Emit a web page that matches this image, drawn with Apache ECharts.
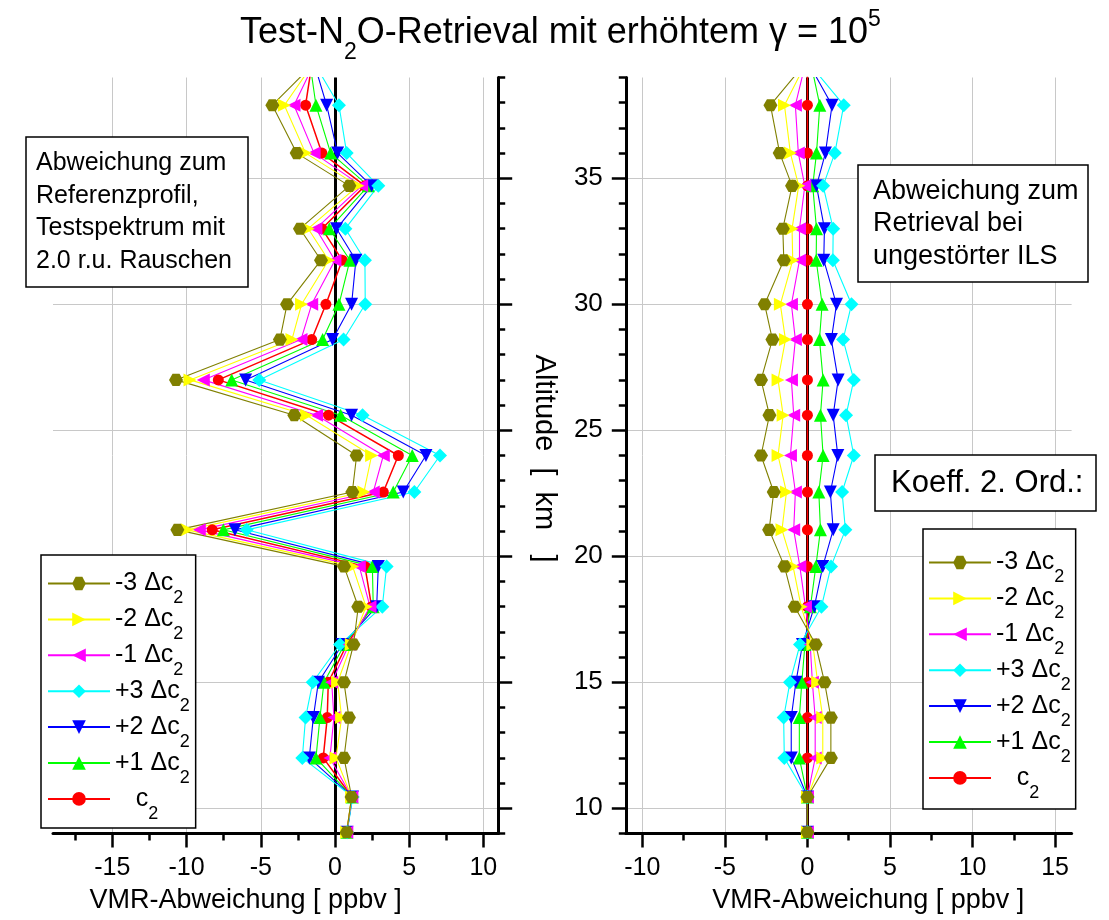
<!DOCTYPE html>
<html>
<head>
<meta charset="utf-8">
<script src="https://cdn.jsdelivr.net/npm/echarts@6/dist/echarts.min.js"></script>
<style>
  html, body { margin: 0; padding: 0; background: #fff; }
  #chart { width: 1109px; height: 920px; }
</style>
</head>
<body>
<div id="chart"></div>
<script>
// Retrieval altitudes [km]; the first level lies above the plotted range
const altitudes = [40.0, 37.9, 36.0, 34.7, 33.0, 31.75, 30.0, 28.6, 27.0, 25.6, 24.0,
                   22.55, 21.05, 19.6, 18.0, 16.5, 15.0, 13.6, 12.0, 10.45, 9.05];

// Left panel: deviation from the reference profile [ppbv]
const refM3 = [-0.67, -4.22, -2.58, 0.97, -2.36, -0.94, -3.23, -3.71, -10.71, -2.74, 1.46, 1.17, -10.62, 0.61, 1.57, 1.25, 0.61, 0.94, 0.61, 1.12, 0.79];
const refM2 = [-0.94, -3.41, -1.98, 1.55, -1.80, -0.43, -2.25, -2.90, -9.77, -1.91, 2.47, 1.95, -9.95, 1.19, 2.09, 1.10, 0.18, 0.45, 0.07, 1.12, 0.79];
const refM1 = [-1.04, -2.76, -1.41, 1.80, -1.28, 0.00, -1.57, -2.29, -8.87, -1.24, 3.26, 2.58, -9.14, 1.64, 2.36, 0.95, -0.22, -0.07, -0.34, 1.14, 0.80];
const refP3 = [-1.82, 0.27, 0.79, 2.92, 0.70, 2.02, 2.04, 0.58, -5.10, 1.86, 7.08, 5.35, -5.95, 3.48, 3.19, 0.34, -1.50, -1.98, -2.20, 1.20, 0.82];
const refP2 = [-1.62, -0.56, 0.18, 2.47, 0.11, 1.41, 1.12, -0.16, -6.02, 1.12, 6.13, 4.60, -6.74, 2.92, 2.81, 0.50, -1.12, -1.46, -1.73, 1.18, 0.81];
const refP1 = [-1.79, -1.28, -0.29, 2.25, -0.38, 1.01, 0.27, -0.83, -6.96, 0.38, 5.21, 3.93, -7.52, 2.52, 2.58, 0.65, -0.74, -1.01, -1.28, 1.16, 0.80];
const refC2 = [-1.44, -1.98, -0.88, 2.02, -0.88, 0.49, -0.61, -1.57, -7.86, -0.43, 4.27, 3.26, -8.27, 2.02, 2.47, 0.80, -0.45, -0.52, -0.79, 1.15, 0.80];

// Right panel: deviation from the retrieval with undisturbed ILS [ppbv]
const ilsM3 = [0.42, -2.24, -1.68, -0.93, -1.49, -1.43, -2.59, -2.12, -2.81, -2.30, -2.81, -2.04, -2.32, -1.39, -0.77, 0.50, 1.04, 1.42, 1.42, 0.00, 0.00];
const ilsM2 = [0.24, -1.39, -1.03, -0.53, -0.93, -0.89, -1.64, -1.33, -1.78, -1.47, -1.78, -1.27, -1.54, -0.87, -0.38, 0.33, 0.62, 0.93, 0.93, 0.00, 0.00];
const ilsM1 = [0.04, -0.73, -0.55, -0.16, -0.48, -0.48, -0.97, -0.73, -0.97, -0.83, -1.03, -0.73, -0.83, -0.46, -0.12, 0.17, 0.30, 0.47, 0.47, 0.00, 0.00];
const ilsP3 = [-0.45, 2.20, 1.66, 0.95, 1.56, 1.54, 2.67, 2.16, 2.81, 2.34, 2.81, 2.10, 2.30, 1.43, 0.85, -0.45, -1.06, -1.44, -1.40, 0.00, 0.00];
const ilsP2 = [-0.30, 1.49, 1.09, 0.55, 1.03, 0.99, 1.76, 1.45, 1.86, 1.56, 1.84, 1.39, 1.56, 0.93, 0.42, -0.30, -0.70, -0.98, -0.98, 0.00, 0.00];
const ilsP1 = [0.07, 0.75, 0.55, 0.32, 0.55, 0.53, 0.89, 0.73, 0.95, 0.79, 0.95, 0.69, 0.79, 0.51, 0.18, -0.15, -0.34, -0.49, -0.49, 0.00, 0.00];
const ilsC2 = [0.00, 0.00, 0.00, 0.00, 0.00, 0.00, 0.00, 0.00, 0.00, 0.00, 0.00, 0.00, 0.00, 0.00, 0.00, 0.00, 0.00, 0.00, 0.00, 0.00, 0.00];

// Legend entries (main text, subscript follows)
const legendOrder = ['-3 Δc', '-2 Δc', '-1 Δc', '+3 Δc', '+2 Δc', '+1 Δc', '   c'];

// Axis ticks
const altMajor = [10, 15, 20, 25, 30, 35];
const altMinor = [9, 11, 12, 13, 14, 16, 17, 18, 19, 21, 22, 23, 24, 26, 27, 28, 29, 31, 32, 33, 34, 36, 37, 38, 39];
const refTicks = [-15, -10, -5, 0, 5, 10];
const refMinor = [-17.5, -12.5, -7.5, -2.5, 2.5, 7.5];
const ilsTicks = [-10, -5, 0, 5, 10, 15];
const ilsMinor = [-7.5, -2.5, 2.5, 7.5, 12.5];

const FONT = 'Liberation Sans, Arial, sans-serif';
const GRID_COLOR = '#c8c8c8';

const HEX = 'path://M-1,0 L-0.5,-0.866 L0.5,-0.866 L1,0 L0.5,0.866 L-0.5,0.866 Z';
const TRI_RIGHT = 'path://M0,0 L1,0.5 L0,1 Z';
const TRI_LEFT = 'path://M1,0 L0,0.5 L1,1 Z';
const TRI_DOWN = 'path://M0,0 L1,0 L0.5,1 Z';

// Drawing order: c2 first, -3 Δc2 last (on top)
const styles = [
  { name: '   c',  color: '#ff0000', symbol: 'circle',   size: 11, ref: refC2, ils: ilsC2 },
  { name: '+1 Δc', color: '#00ff00', symbol: 'triangle', size: 13, ref: refP1, ils: ilsP1 },
  { name: '+2 Δc', color: '#0000ff', symbol: TRI_DOWN,   size: 13, ref: refP2, ils: ilsP2 },
  { name: '+3 Δc', color: '#00ffff', symbol: 'diamond',  size: 14, ref: refP3, ils: ilsP3 },
  { name: '-1 Δc', color: '#ff00ff', symbol: TRI_LEFT,   size: 13, ref: refM1, ils: ilsM1 },
  { name: '-2 Δc', color: '#ffff00', symbol: TRI_RIGHT,  size: 13, ref: refM2, ils: ilsM2 },
  { name: '-3 Δc', color: '#808000', symbol: HEX,        size: 14, ref: refM3, ils: ilsM3 }
];

const zeroLine = {
  silent: true,
  z: 1,
  symbol: ['none', 'none'],
  label: { show: false },
  lineStyle: { color: '#000', width: 3, type: 'solid' },
  data: [{ xAxis: 0 }]
};

function makeSeries(st, values, panel) {
  return {
    type: 'line',
    name: st.name,
    xAxisIndex: panel * 2,
    yAxisIndex: panel * 2,
    data: altitudes.map((a, i) => [values[i], a]),
    symbol: st.symbol,
    symbolSize: st.size,
    symbolKeepAspect: st.symbol === HEX,
    clip: true,
    lineStyle: { color: st.color, width: st.name === '   c' ? 1.5 : 1.1 },
    itemStyle: { color: st.color },
    emphasis: { disabled: true },
    animation: false,
    markLine: st.name === '   c' ? zeroLine : undefined
  };
}

const series = [];
styles.forEach(st => series.push(makeSeries(st, st.ref, 0)));
styles.forEach(st => series.push(makeSeries(st, st.ils, 1)));

const legendRich = {
  a: { fontFamily: FONT, fontSize: 25, color: '#000', verticalAlign: 'middle' },
  s: { fontFamily: FONT, fontSize: 18, color: '#000', verticalAlign: 'middle', padding: [30, 0, 0, 0] }
};

function legend(left, top, padding) {
  return {
    orient: 'vertical',
    left: left, top: top,
    data: legendOrder,
    itemWidth: 62, itemHeight: 17, itemGap: -0.6,
    padding: padding,
    backgroundColor: '#fff',
    borderColor: '#000', borderWidth: 1.5, borderRadius: 0,
    selectedMode: false,
    formatter: name => '{a|' + name + '}{s|2}',
    textStyle: { rich: legendRich }
  };
}

function xAxisMain(grid, min, max, ticks, namePad) {
  return {
    type: 'value', gridIndex: grid, min: min, max: max, position: 'bottom',
    name: 'VMR-Abweichung [ ppbv ]', nameLocation: 'middle', nameGap: 54,
    nameTextStyle: { fontFamily: FONT, fontSize: 27, color: '#000', padding: namePad },
    axisLine: { show: true, onZero: false, lineStyle: { color: '#000', width: 3 } },
    axisTick: { show: true, customValues: ticks, length: 14, lineStyle: { color: '#000', width: 2.5 } },
    axisLabel: { show: true, customValues: ticks, margin: 22, fontFamily: FONT, fontSize: 25, color: '#000' },
    splitLine: { show: true, lineStyle: { color: GRID_COLOR, width: 1 } }
  };
}
function xAxisMinor(grid, min, max, ticks) {
  return {
    type: 'value', gridIndex: grid, min: min, max: max, position: 'bottom',
    axisLine: { show: false, onZero: false },
    axisTick: { show: true, customValues: ticks, length: 7, lineStyle: { color: '#000', width: 2.5 } },
    axisLabel: { show: false },
    splitLine: { show: false }
  };
}
function yAxisMain(grid, position, showLabels) {
  const ax = {
    type: 'value', gridIndex: grid, min: 9, max: 39, position: position,
    axisLine: { show: true, onZero: false, lineStyle: { color: '#000', width: 3 } },
    axisTick: { show: true, customValues: altMajor, length: 14, lineStyle: { color: '#000', width: 2.5 } },
    axisLabel: { show: showLabels, customValues: altMajor, margin: 23, fontFamily: FONT, fontSize: 26, color: '#000' },
    splitLine: { show: true, lineStyle: { color: GRID_COLOR, width: 1 } }
  };
  if (showLabels) {
    ax.name = 'Altitude  [  km   ]';
    ax.nameLocation = 'middle';
    ax.nameRotate = -90;
    ax.nameGap = 67;
    ax.nameTextStyle = { fontFamily: FONT, fontSize: 29, color: '#000', padding: [0, 0, 0, 6] };
  }
  return ax;
}
function yAxisMinor(grid, position) {
  return {
    type: 'value', gridIndex: grid, min: 9, max: 39, position: position,
    axisLine: { show: false, onZero: false },
    axisTick: { show: true, customValues: altMinor, length: 7, lineStyle: { color: '#000', width: 2.5 } },
    axisLabel: { show: false },
    splitLine: { show: false }
  };
}

const boxStyle = { backgroundColor: '#fff', borderColor: '#000', borderWidth: 1.5 };

const option = {
  animation: false,
  backgroundColor: '#fff',
  title: [
    {
      text: '{a|Test-N}{sub|2}{a|O-Retrieval mit erhöhtem γ = 10}{sup|5}',
      left: 240, top: 3, padding: 0,
      textStyle: {
        fontWeight: 'normal',
        rich: {
          a: { fontFamily: FONT, fontSize: 36, fontWeight: 'normal', color: '#000', verticalAlign: 'middle' },
          sub: { fontFamily: FONT, fontSize: 23, fontWeight: 'normal', color: '#000', verticalAlign: 'middle', padding: [38, 0, 0, 0] },
          sup: { fontFamily: FONT, fontSize: 23, fontWeight: 'normal', color: '#000', verticalAlign: 'middle', padding: [0, 0, 28, 0] }
        }
      }
    },
    Object.assign({
      text: 'Abweichung zum\nReferenzprofil,\nTestspektrum mit\n2.0 r.u. Rauschen',
      left: 26, top: 137, padding: [10, 16, 10, 10],
      textStyle: { fontFamily: FONT, fontSize: 25, lineHeight: 32.5, fontWeight: 'normal', color: '#000' }
    }, boxStyle),
    Object.assign({
      text: 'Abweichung zum\nRetrieval bei\nungestörter ILS',
      left: 858, top: 165, padding: [10, 10, 10, 15],
      textStyle: { fontFamily: FONT, fontSize: 27, lineHeight: 32.5, fontWeight: 'normal', color: '#000' }
    }, boxStyle),
    Object.assign({
      text: 'Koeff. 2. Ord.:',
      left: 875, top: 455, padding: [10, 13, 10, 16],
      textStyle: { fontFamily: FONT, fontSize: 31, lineHeight: 36, fontWeight: 'normal', color: '#000' }
    }, boxStyle)
  ],
  legend: [
    legend(41, 555, [16, 6, 5, 6]),
    legend(923, 529, [21, 5, 7, 5])
  ],
  grid: [
    { left: 53, top: 77.5, width: 445.2, height: 756, containLabel: false, outerBoundsMode: 'none' },
    { left: 625.8, top: 77.5, width: 445.8, height: 756, containLabel: false, outerBoundsMode: 'none' }
  ],
  xAxis: [
    xAxisMain(0, -19, 11, refTicks, [0, 60, 0, 0]),
    xAxisMinor(0, -19, 11, refMinor),
    xAxisMain(1, -11, 16, ilsTicks, [0, 0, 0, 39]),
    xAxisMinor(1, -11, 16, ilsMinor)
  ],
  yAxis: [
    yAxisMain(0, 'right', false),
    yAxisMinor(0, 'right'),
    yAxisMain(1, 'left', true),
    yAxisMinor(1, 'left')
  ],
  series: series
};

const chart = echarts.init(document.getElementById('chart'), null, { renderer: 'canvas' });
chart.setOption(option);
</script>
</body>
</html>
